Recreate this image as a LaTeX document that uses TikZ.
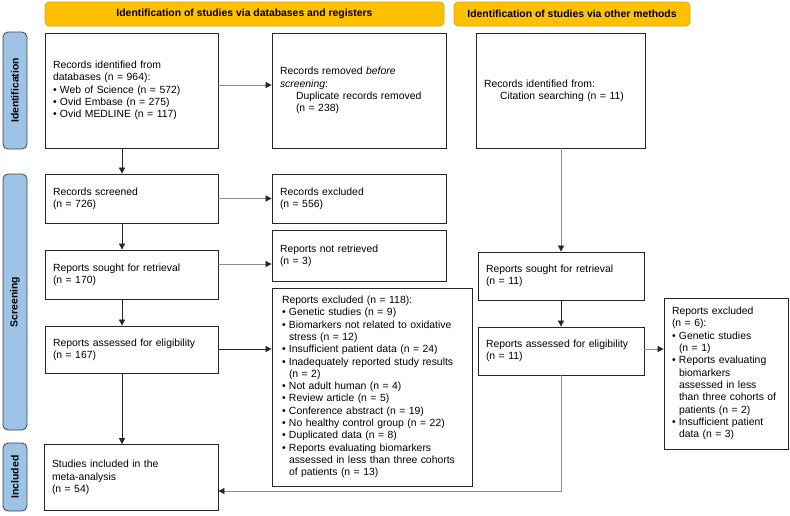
\documentclass[tikz,border=0pt]{standalone}
\usepackage{fontspec}
\setmainfont{Liberation Sans}
\usetikzlibrary{arrows.meta}
\definecolor{hdrfill}{HTML}{FFC000}
\definecolor{hdrdraw}{HTML}{D9A400}
\definecolor{sidefill}{HTML}{9DC3E6}
\definecolor{sidedraw}{HTML}{3A4656}
\definecolor{boxdraw}{HTML}{262626}
\definecolor{glines}{HTML}{8C8C8C}
\newcommand\bul{\par\noindent\makebox[7pt][l]{\textbullet}}
\newcommand\nl{\\\hspace*{7pt}}
\newcommand\ind{\hspace*{16pt}}
\begin{document}
\begin{tikzpicture}[x=1pt,y=-1pt,
  box/.style={draw=boxdraw, line width=0.75pt, fill=white, inner xsep=8pt, inner ysep=0pt,
    align=left, font=\fontsize{10.4}{12.3}\selectfont},
  hdr/.style={draw=hdrdraw, fill=hdrfill, line width=0.6pt, rounded corners=4pt,
    minimum height=24pt, inner sep=0pt, font=\fontsize{10.4}{12}\selectfont\bfseries},
  side/.style={draw=sidedraw, fill=sidefill, line width=0.8pt, rounded corners=5pt, rotate=90,
    minimum height=24pt, inner sep=0pt, font=\fontsize{10.4}{12}\selectfont\bfseries},
  darr/.style={draw=boxdraw, line width=0.7pt, -{Triangle[length=6pt,width=6pt]}},
  garr/.style={draw=glines, line width=0.7pt, -{Triangle[length=6pt,width=6pt,color=boxdraw]}}
]
\useasboundingbox (0,0) rectangle (790,515);

% headers
\node[hdr, minimum width=399pt] (h1) at (244.5,14) {Identification of studies via databases and registers};
\node[hdr, minimum width=236pt] (h2) at (572,14) {Identification of studies via other methods};

% side bars
\node[side, minimum width=117pt] (sid) at (15,90.5) {Identification};
\node[side, minimum width=256pt] (sscr) at (15,302) {Screening};
\node[side, minimum width=68pt] (sinc) at (15,477) {Included};

% boxes
\node[box, text width=157pt, minimum height=115pt] (id) at (131.5,90.5)
  {Records identified from\\databases (n = 964):
   \bul Web of Science (n = 572)
   \bul Ovid Embase (n = 275)
   \bul Ovid MEDLINE (n = 117)\par\vspace{12pt}};
\node[box, text width=158pt, minimum height=115pt] (removed) at (359,90.5)
  {Records removed \textit{before}\\\textit{screening}:\\\ind Duplicate records removed\\\ind (n = 238)\par\vspace{11pt}};
\node[box, text width=153pt, minimum height=115pt] (cit) at (560.5,90.5)
  {Records identified from:\\\ind Citation searching (n = 11)\par\vspace{-3pt}};

\node[box, text width=157pt, minimum height=49pt] (scr) at (131.5,198.5)
  {Records screened\\(n = 726)};
\node[box, text width=158pt, minimum height=49pt] (exc) at (359,198.5)
  {Records excluded\\(n = 556)};

\node[box, text width=157pt, minimum height=49pt] (sought) at (131.5,274.5)
  {Reports sought for retrieval\\(n = 170)};
\node[box, text width=158pt, minimum height=51pt] (notr) at (359,255.5)
  {Reports not retrieved\\(n = 3)};

\node[box, text width=150pt, minimum height=48pt] (sought2) at (561,276)
  {Reports sought for retrieval\\(n = 11)};

\node[box, text width=157pt, minimum height=47pt] (assess) at (131.5,349.5)
  {Reports assessed for eligibility\\(n = 167)};
\node[box, text width=180pt, inner xsep=10pt, minimum height=198pt] (bigx) at (372,387)
  {Reports excluded (n = 118):
   \bul Genetic studies (n = 9)
   \bul Biomarkers not related to oxidative\nl stress (n = 12)
   \bul Insufficient patient data (n = 24)
   \bul Inadequately reported study results\nl (n = 2)
   \bul Not adult human (n = 4)
   \bul Review article (n = 5)
   \bul Conference abstract (n = 19)
   \bul No healthy control group (n = 22)
   \bul Duplicated data (n = 8)
   \bul Reports evaluating biomarkers\nl assessed in less than three cohorts\nl of patients (n = 13)};

\node[box, text width=150pt, minimum height=48pt] (assess2) at (561,351)
  {Reports assessed for eligibility\\(n = 11)};
\node[box, text width=108pt, minimum height=151pt] (excl2) at (726,373.5)
  {Reports excluded\\(n = 6):
   \bul Genetic studies\nl (n = 1)
   \bul Reports evaluating\nl biomarkers\nl assessed in less\nl than three cohorts of\nl patients (n = 2)
   \bul Insufficient patient\nl data (n = 3)};

\node[box, text width=158pt, minimum height=66pt] (inc) at (131,477.5)
  {Studies included in the\\meta-analysis\\(n = 54)};

% helper coordinates
\coordinate (L) at (122,0);
\coordinate (y1) at (0,85);
\coordinate (y2) at (0,264);
\coordinate (y3) at (0,349);
\coordinate (y4) at (0,491);

% vertical arrows (left)
\draw[darr] (id.south -| L) -- (scr.north -| L);
\draw[darr] (scr.south -| L) -- (sought.north -| L);
\draw[darr] (sought.south -| L) -- (assess.north -| L);
\draw[darr] (assess.south -| L) -- (inc.north -| L);

% horizontal arrows
\draw[garr] (id.east |- y1) -- (removed.west |- y1);
\draw[garr] (scr.east) -- (exc.west |- scr.east);
\draw[garr] (sought.east |- y2) -- (notr.west |- y2);
\draw[darr] (assess.east |- y3) -- (bigx.west |- y3);

% right column
\draw[garr] (cit.south -| sought2.north) -- (sought2.north);
\draw[darr] (sought2.south) -- (assess2.north);
\draw[garr] (assess2.east |- y3) -- (excl2.west |- y3);
\draw[garr] (assess2.south) -- (assess2.south |- y4) -- (inc.east |- y4);
\end{tikzpicture}
\end{document}
